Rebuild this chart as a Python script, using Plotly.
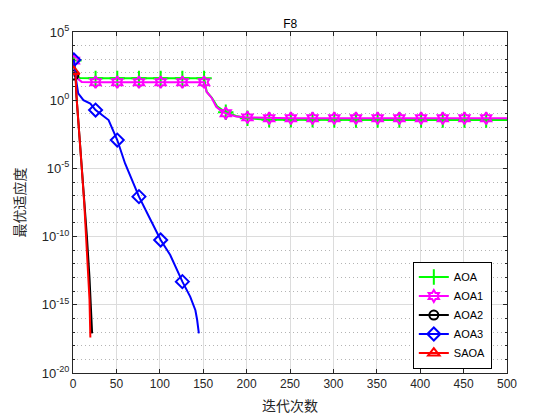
import plotly.graph_objects as go

# markers every 25 iterations (1, 26, 51, ...)
mark_iters = list(range(1, 501, 25))

aoa_x = [1, 3, 5, 8, 26, 51, 76, 101, 126, 151, 154, 160, 166, 176, 188, 201,
         226, 251, 276, 301, 326, 351, 376, 401, 426, 451, 476, 500]
aoa_y = [8e2, 1.5e2, 6e1, 4.2e1, 4e1, 4e1, 4e1, 4e1, 4e1, 4e1, 4.2, 1.5, 0.36, 0.13, 0.07, 0.048,
         0.037, 0.036, 0.036, 0.035, 0.035, 0.035, 0.035, 0.035, 0.035, 0.035, 0.035, 0.035]

aoa1_x = [1, 3, 6, 10, 26, 51, 76, 101, 126, 151, 154, 160, 165, 170, 176, 188, 201,
          226, 251, 276, 301, 326, 351, 376, 401, 426, 451, 476, 500]
aoa1_y = [8e2, 1e2, 3.5e1, 2.2e1, 2.1e1, 2.1e1, 2.1e1, 2.1e1, 2.1e1, 2.1e1, 4.0, 1.4, 0.33, 0.18, 0.11, 0.063, 0.055,
          0.048, 0.047, 0.047, 0.047, 0.047, 0.047, 0.047, 0.047, 0.047, 0.047, 0.047, 0.047]

aoa2_x = [1, 3, 4, 5, 7, 10, 13, 16, 19, 21, 22]
aoa2_y = [7e1, 5e1, 2.0, 0.3, 6e-3, 2.5e-5, 6e-8, 1e-10, 1e-13, 4e-16, 8e-18]

aoa3_x = [1, 3, 6, 12, 20, 26, 41, 51, 60, 76, 88, 101, 112, 126, 135, 141, 143, 145]
aoa3_y = [9e2, 5e1, 3.2, 1.0, 0.56, 0.19, 0.035, 1.2e-3, 2.3e-5, 8.5e-8, 2.5e-9, 5.6e-11,
          4.5e-12, 5e-14, 4e-15, 4e-16, 8e-17, 8e-18]

saoa_x = [1, 3, 4, 5, 7, 10, 13, 15, 17, 19, 20]
saoa_y = [1.25e2, 8e1, 2.0, 0.2, 4e-3, 1.3e-5, 2.5e-8, 2e-10, 1e-12, 2.5e-15, 4e-18]

y_major = [1e-20, 1e-15, 1e-10, 1e-5, 1e0, 1e5]
y_major_text = ["10<sup>-20</sup>", "10<sup>-15</sup>", "10<sup>-10</sup>",
                "10<sup>-5</sup>", "10<sup>0</sup>", "10<sup>5</sup>"]
y_minor = [10.0 ** k for k in range(-20, 6) if k % 5 != 0]

series = [
    ("AOA", aoa_x, aoa_y, "#00ff00", "cross-thin-open", 11),
    ("AOA1", aoa1_x, aoa1_y, "#ff00ff", "hexagram-open", 9),
    ("AOA2", aoa2_x, aoa2_y, "#000000", "circle-open", 9),
    ("AOA3", aoa3_x, aoa3_y, "#0000ff", "diamond-open", 10),
    ("SAOA", saoa_x, saoa_y, "#ff0000", "triangle-up-open", 10),
]

fig = go.Figure()
for name, xs, ys, col, sym, sz in series:
    fig.add_trace(go.Scatter(x=xs, y=ys, mode="lines", line=dict(color=col, width=2),
                             showlegend=False, hoverinfo="skip"))
    mx = [x for x in xs if x in mark_iters]
    my = [y for x, y in zip(xs, ys) if x in mark_iters]
    fig.add_trace(go.Scatter(x=mx, y=my, mode="markers", showlegend=False,
                             marker=dict(symbol=sym, size=sz, color=col,
                                         line=dict(color=col, width=2))))
# legend entries
for name, xs, ys, col, sym, sz in series:
    fig.add_trace(go.Scatter(x=[None], y=[None], mode="lines+markers", name=name,
                             line=dict(color=col, width=2),
                             marker=dict(symbol=sym, size=sz, color=col,
                                         line=dict(color=col, width=2))))

axis_col = "#262626"
# the page body adds an 8px offset, so margins are shifted to compensate
fig.update_layout(
    width=560, height=420,
    margin=dict(l=65, r=61, t=24, b=55),
    paper_bgcolor="white", plot_bgcolor="white",
    font=dict(family="Liberation Sans, Arial", size=12, color=axis_col),
    title=dict(text="F8", x=0.504, xanchor="center", y=0.962, yanchor="middle",
               font=dict(size=12, color="#000000"), automargin=False),
    legend=dict(x=0.783, y=0.170, xanchor="left", yanchor="middle",
                bgcolor="white", bordercolor="#000000", borderwidth=1,
                font=dict(size=11, color="#000000"), itemwidth=30,
                tracegroupgap=0),
)
fig.update_xaxes(
    range=[0, 500], tickvals=list(range(0, 501, 50)), automargin=False,
    showline=True, linecolor=axis_col, linewidth=1, mirror="ticks",
    ticks="inside", ticklen=4, tickcolor=axis_col,
    showgrid=True, gridcolor="#dcdcdc", gridwidth=1, zeroline=False,
    title=dict(text="迭代次数", font=dict(family="Noto Sans CJK SC", size=14, color=axis_col),
               standoff=10),
)
fig.update_yaxes(
    type="log", range=[-20, 5], tickvals=y_major, ticktext=y_major_text, automargin=False,
    tickfont=dict(size=13),
    showline=True, linecolor=axis_col, linewidth=1, mirror="ticks",
    ticks="inside", ticklen=4, tickcolor=axis_col,
    showgrid=True, gridcolor="#dcdcdc", gridwidth=1, zeroline=False,
    minor=dict(tickvals=y_minor, ticks="inside", ticklen=2, tickcolor=axis_col,
               showgrid=True, gridcolor="#b4b4b4", griddash="1px,3px", gridwidth=1),
    title=dict(text="最优适应度", font=dict(family="Noto Sans CJK SC", size=14, color=axis_col),
               standoff=12),
)

fig.write_html("out.html")
